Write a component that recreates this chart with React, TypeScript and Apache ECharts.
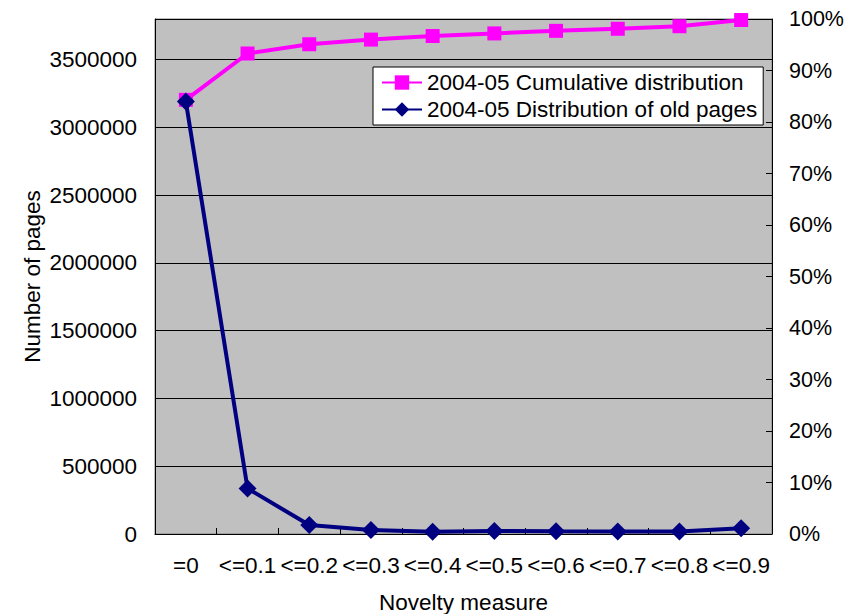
import React, { useEffect, useRef } from "react";
import * as echarts from "echarts";

const categories = ["=0", "<=0.1", "<=0.2", "<=0.3", "<=0.4", "<=0.5", "<=0.6", "<=0.7", "<=0.8", "<=0.9"];
const cumulativeShare = [0.843, 0.933, 0.951, 0.96, 0.967, 0.972, 0.977, 0.981, 0.986, 0.998];
const oldPages = [3191000, 336000, 66000, 29000, 17000, 22000, 20000, 19000, 18000, 42000];
const seriesNames = ["2004-05 Cumulative distribution", "2004-05 Distribution of old pages"];

const FONT = "Liberation Sans, Arial, sans-serif";
const FS = 22.5;

export default function App() {
  const ref = useRef<HTMLDivElement>(null);
  useEffect(() => {
    if (!ref.current) return;
    const chart = echarts.init(ref.current, undefined, { renderer: "svg" });
    chart.setOption({
      animation: false,
      textStyle: { fontFamily: FONT, color: "#000" },
      grid: {
        left: 155,
        right: 74,
        top: 19,
        bottom: 80,
        outerBoundsMode: "none",
        containLabel: false,
        show: true,
        backgroundColor: "#C0C0C0",
        borderColor: "#808080",
        borderWidth: 1,
      },
      legend: {
        orient: "vertical",
        left: 373,
        top: 67,
        itemWidth: 40,
        itemHeight: 18,
        itemGap: 4,
        padding: [4, 6, 4, 8],
        backgroundColor: "#fff",
        borderColor: "#000",
        borderWidth: 1,
        textStyle: { fontSize: FS, fontFamily: FONT, color: "#000" },
        data: seriesNames,
      },
      xAxis: {
        type: "category",
        data: categories,
        boundaryGap: true,
        name: "Novelty measure",
        nameLocation: "middle",
        nameGap: 57,
        nameMoveOverlap: false,
        nameTextStyle: { fontSize: FS, fontFamily: FONT, color: "#000" },
        axisLine: { lineStyle: { color: "#000", width: 1 } },
        axisTick: { show: true, inside: true, length: 6, interval: 0, lineStyle: { color: "#000" } },
        axisLabel: { fontSize: FS, fontFamily: FONT, color: "#000", margin: 20, interval: 0 },
        splitLine: { show: false },
      },
      yAxis: [
        {
          type: "value",
          min: 0,
          max: 3800000,
          interval: 500000,
          position: "left",
          name: "Number of pages",
          nameLocation: "middle",
          nameGap: 111,
          nameMoveOverlap: false,
          nameTextStyle: { fontSize: FS, fontFamily: FONT, color: "#000" },
          axisLine: { show: true, lineStyle: { color: "#000" } },
          axisTick: { show: false },
          axisLabel: {
            fontSize: FS,
            fontFamily: FONT,
            color: "#000",
            margin: 18,
            showMaxLabel: false,
            formatter: (v: number) => String(v),
          },
          splitLine: { show: true, lineStyle: { color: "#000", width: 1 } },
        },
        {
          type: "value",
          min: 0,
          max: 1,
          interval: 0.1,
          position: "right",
          axisLine: { show: true, lineStyle: { color: "#000" } },
          axisTick: { show: true, inside: true, length: 6, lineStyle: { color: "#000" } },
          axisLabel: {
            fontSize: 21.5,
            fontFamily: FONT,
            color: "#000",
            margin: 17,
            formatter: (v: number) => Math.round(v * 100) + "%",
          },
          splitLine: { show: false },
        },
      ],
      series: [
        {
          name: seriesNames[0],
          type: "line",
          yAxisIndex: 1,
          data: cumulativeShare,
          symbol: "rect",
          symbolSize: 14,
          itemStyle: { color: "#FF00FF" },
          lineStyle: { color: "#FF00FF", width: 4 },
        },
        {
          name: seriesNames[1],
          type: "line",
          yAxisIndex: 0,
          data: oldPages,
          symbol: "diamond",
          symbolSize: 18,
          itemStyle: { color: "#000080" },
          lineStyle: { color: "#000080", width: 4 },
        },
      ],
    });
    return () => chart.dispose();
  }, []);
  return (
    <div
      ref={ref}
      style={{ position: "fixed", left: 0, top: 0, width: 846, height: 614, background: "#fff" }}
    />
  );
}
